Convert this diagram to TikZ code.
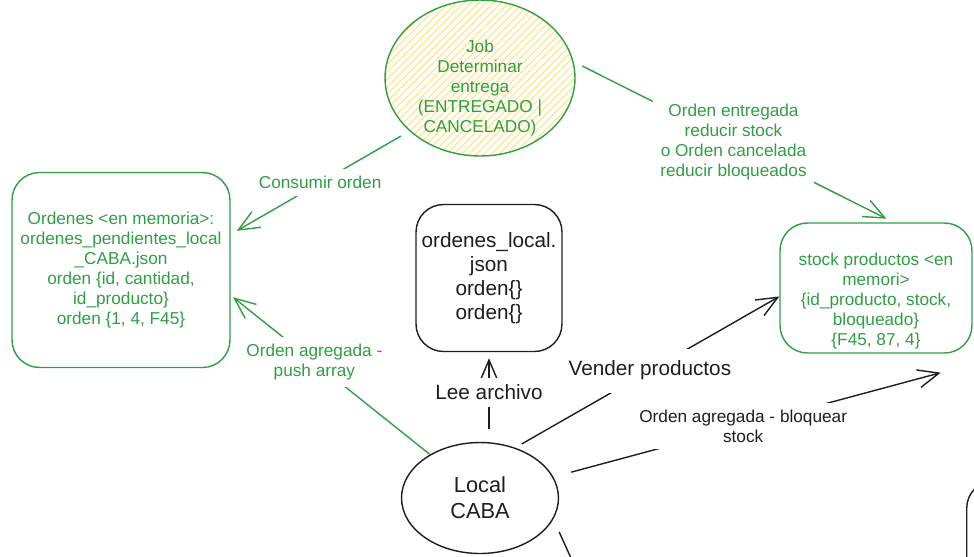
\documentclass[tikz,border=0pt]{standalone}
\usepackage{fontspec}
\setmainfont{Liberation Sans}
\usepackage{tikz}
\usetikzlibrary{shapes.geometric}
\usetikzlibrary{patterns.meta}
\usetikzlibrary{arrows.meta}

\definecolor{verde}{HTML}{2F9E44}
\definecolor{negro}{HTML}{1E1E1E}
\definecolor{amarillo}{HTML}{FFE57A}

\tikzset{
    chico/.style={font=\fontsize{9.8}{11.4}\selectfont},
    grande/.style={font=\fontsize{11.8}{13.8}\selectfont},
    caja/.style={draw, rounded corners=0.55cm, line width=0.8pt, align=center, inner sep=0pt},
    flecha/.style={line width=0.8pt, -{Straight Barb[length=0.42cm, width=0.36cm]}},
    etiqueta/.style={fill=white, align=center, inner sep=4pt},
}

\begin{document}
\begin{tikzpicture}[x=0.02cm, y=-0.02cm]
        \useasboundingbox (0,0) rectangle (974,556);
        \clip (0,0) rectangle (974,556);

        \node[ellipse, draw=verde, line width=0.8pt,
            minimum width=3.8cm, minimum height=3.12cm, inner sep=0pt,
            pattern={Lines[angle=45, distance=3pt, line width=0.6pt]}, pattern color=amarillo,
            label={[text=verde, chico, align=center, yshift=-0.2cm]center:{Job\\Determinar\\entrega\\(ENTREGADO |\\CANCELADO)}}]
            (job) at (480,78) {};

        \node[caja, draw=verde, text=verde, chico, minimum width=4.36cm, minimum height=3.9cm]
            (ordenes) at (121,270) {Ordenes <en memoria>:\\ordenes\_pendientes\_local\\\_CABA.json\\orden \{id, cantidad,\\id\_producto\}\\orden \{1, 4, F45\}};

        \node[caja, draw=negro, text=negro, grande, minimum width=2.92cm, minimum height=2.94cm]
            (olocal) at (489,278) {ordenes\_local.\\json\\orden\{\}\\orden\{\}};

        \node[caja, draw=verde, minimum width=3.84cm, minimum height=2.6cm,
            label={[text=verde, chico, align=center, yshift=-0.26cm]center:{stock productos <en\\memori>\\\{id\_producto, stock,\\bloqueado\}\\\{F45, 87, 4\}}}]
            (stock) at (876,288) {};

        \node[ellipse, draw=negro, text=negro, align=center, line width=0.8pt,
            minimum width=3.14cm, minimum height=2.22cm, inner sep=0pt,
            font=\fontsize{12.4}{14.8}\selectfont]
            (caba) at (480,498) {Local\\CABA};

        \node[caja, draw=negro, anchor=north west, minimum width=3cm, minimum height=3cm]
            (siguiente) at (966,480) {};
        \coordinate (abajo) at (600,622);

        \draw[flecha, verde, shorten <=0.2cm, shorten >=0.14cm] (job.217)
            -- node[etiqueta, text=verde, chico] {Consumir orden} (ordenes.18);
        \draw[flecha, verde, shorten >=0.06cm] (caba.139)
            -- node[etiqueta, text=verde, chico, pos=0.58] {Orden agregada -\\push array} (ordenes.-13);
        \draw[flecha, verde, shorten <=0.2cm, shorten >=0.16cm] (job.10)
            -- node[etiqueta, text=verde, chico] {Orden entregada\\reducir stock\\o Orden cancelada\\reducir bloqueados} (stock.75);

        \draw[flecha, negro, shorten <=0.26cm, shorten >=0.12cm] (olocal.south |- caba.north)
            -- node[etiqueta, text=negro, grande, pos=0.55] {Lee archivo} (olocal.south);
        \draw[flecha, negro, shorten <=0.15cm] (caba.55)
            -- node[etiqueta, text=negro, grande, pos=0.51, inner sep=7pt] {Vender productos} (stock.185);
        \draw[flecha, negro, shorten <=0.37cm] (caba.16)
            -- node[etiqueta, text=negro, chico, pos=0.49] {Orden agregada - bloquear\\stock} ([xshift=-0.64cm, yshift=-0.38cm]stock.south east);
        \draw[negro, line width=0.8pt] ([yshift=-0.68cm]caba.east) -- (abajo);
\end{tikzpicture}
\end{document}
